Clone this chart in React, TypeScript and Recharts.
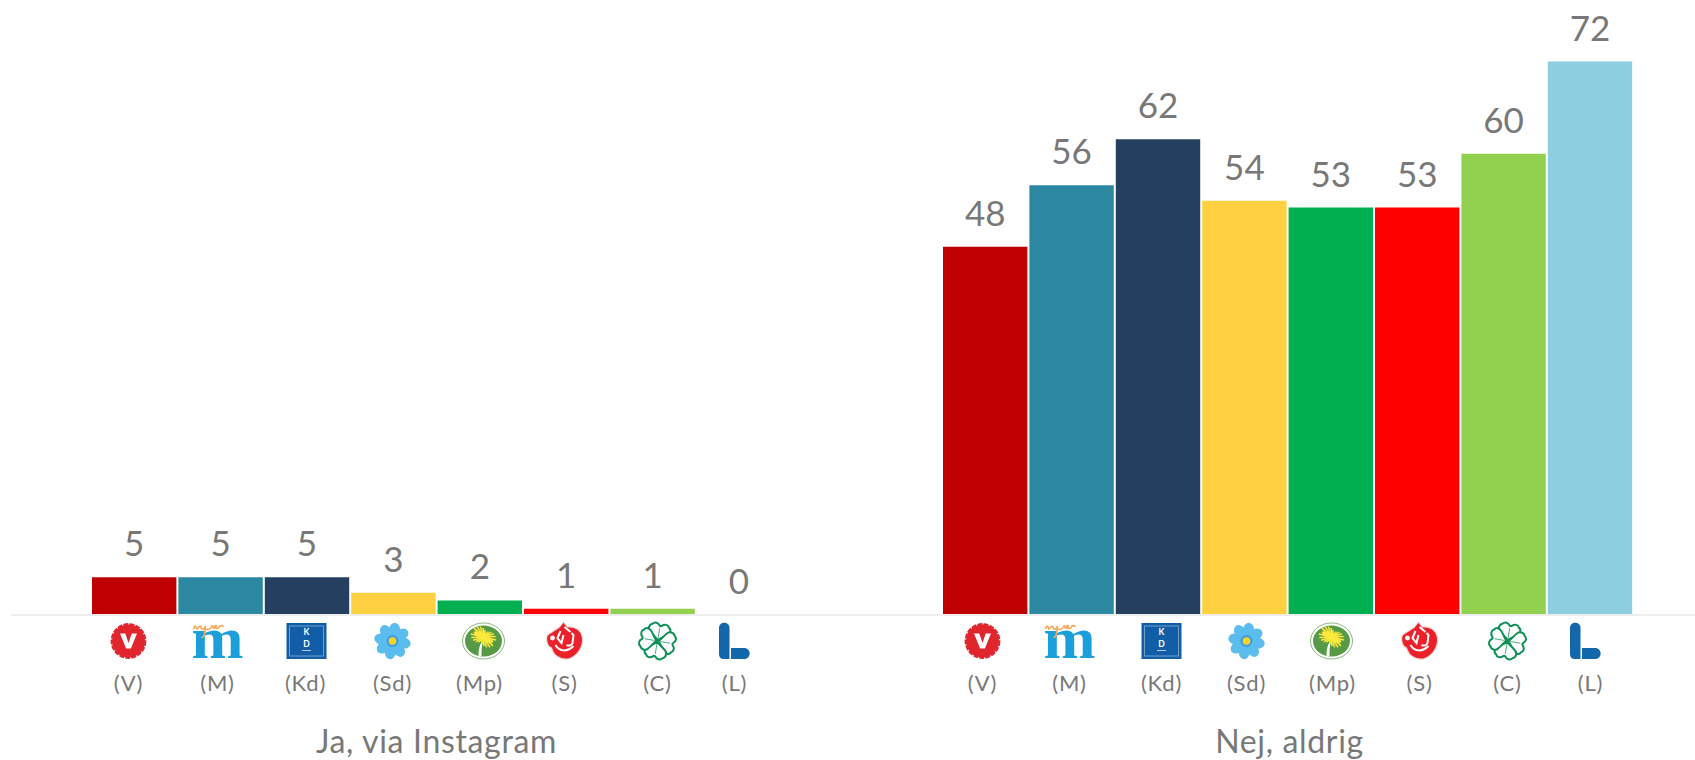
import { Bar, BarChart, LabelList, XAxis, YAxis } from "recharts"

const groups = ["Ja, via Instagram", "Nej, aldrig"]
const parties = ["V", "M", "Kd", "Sd", "Mp", "S", "C", "L"]
const colors = ["#c00000", "#2b88a0", "#253f61", "#ffd040", "#00b050", "#ff0000", "#92d050", "#8bcfe1"]

// values per party, same order as `parties`
// the last one is read as 0, a bar of exactly 0 loses its label so it is kept just above
const jaValues = [4.9, 4.9, 4.9, 2.9, 1.9, 0.8, 0.8, 0.01]
const nejValues = [47.9, 55.9, 61.9, 53.9, 53, 53, 60, 72]

// logos and party labels were placed by hand in the original, so they do not sit on the bars
const logoOffsets = [
  [-308, -219, -130, -44, 47, 128, 221, 298],
  [-305, -218, -126, -41, 44, 132, 220, 298],
]
const labelOffsets = [
  [-308, -219, -131, -44, 43, 128, 221, 298],
  [-305, -218, -126, -41, 45, 132, 220, 303],
]

const data = groups.map((group, g) => {
  const values = g === 0 ? jaValues : nejValues
  const row: Record<string, string | number> = { group }
  parties.forEach((p, i) => {
    row[p] = values[i]
  })
  return row
})

const textColor = "#787878"
const fontFamily = "Lato, sans-serif"

function LogoV() {
  return (
    <g>
      <circle r={16.5} fill="#e0252c" />
      <circle r={17} fill="none" stroke="#e0252c" strokeWidth={1.8} strokeDasharray="5 1.2" />
      <path d="M-8.5 -7.5 L-3.2 -7.5 L0 2 L3.2 -7.5 L8.5 -7.5 L2.4 7.5 L-2.4 7.5 Z" fill="#fff" />
    </g>
  )
}

function LogoM() {
  return (
    <g>
      <text
        x={0}
        y={17}
        textAnchor="middle"
        fontFamily="'Liberation Serif', serif"
        fontWeight={700}
        fontSize={60}
        fill="#1b9fdb"
        textLength={52}
        lengthAdjust="spacingAndGlyphs"
      >
        m
      </text>
      <path
        d="M-24 -12 C-23 -15 -22 -16 -21 -13 C-21 -10 -19 -15 -17 -15 C-16 -11 -14 -10 -12 -15 C-12 -9 -14 -2 -16 -4 M-11 -12 C-8 -10 -6 -14 -5 -16 C-5 -11 -2 -13 -1 -15 C-4 -17 -3 -11 1 -13 C3 -16 5 -16 6 -14"
        fill="none"
        stroke="#f5a95c"
        strokeWidth={1.6}
      />
    </g>
  )
}

function LogoKd() {
  return (
    <g>
      <rect x={-20} y={-18} width={40} height={36} fill="#125ea6" />
      <rect x={-17} y={-15} width={34} height={30} fill="none" stroke="#6f9fcc" strokeWidth={1} />
      <g fontFamily="Lato, sans-serif" fontWeight={700} fontSize={8.5} fill="#fff" textAnchor="middle">
        <text x={0} y={-6}>K</text>
        <text x={0} y={6}>D</text>
      </g>
      <line x1={-4.5} x2={4.5} y1={9.5} y2={9.5} stroke="#dde8f3" strokeWidth={0.8} />
    </g>
  )
}

function LogoSd() {
  const petals = [0, 45, 90, 135, 180, 225, 270, 315]
  return (
    <g>
      {petals.map((a) => (
        <ellipse key={a} cx={0} cy={-11} rx={5.6} ry={7.4} fill="#5bbcee" transform={`rotate(${a + 10})`} />
      ))}
      <circle r={6} fill="#3f9fdc" />
      <circle r={3.8} fill="#ffd21f" />
    </g>
  )
}

function LogoMp() {
  const rays = [-75, -60, -45, -30, -15, 0, 15, 30, 45, 60, 75, 105, 120, 135, 150, 165, 180, 195, 210, 225, 240, 255]
  return (
    <g>
      <ellipse rx={21} ry={18} fill="#fff" stroke="#86b97c" strokeWidth={1} />
      <ellipse rx={18.5} ry={15.5} fill="#569a46" />
      <path d="M-5 15 C-5 8 -4 3 0 -1 C-2 4 -2 9 -2 15 Z" fill="#fff" />
      <g stroke="#fbe83a" strokeWidth={1.6} transform="translate(0 -4) rotate(28)">
        {rays.map((a) => (
          <line key={a} x1={0} y1={0} x2={0} y2={-7} transform={`rotate(${a}) scale(${1} ${Math.abs(Math.sin((a * Math.PI) / 180)) * 1.2 + 0.7})`} />
        ))}
        <ellipse rx={11} ry={3} fill="#fbe83a" stroke="none" />
      </g>
    </g>
  )
}

function LogoS() {
  return (
    <g>
      <path
        d="M-5 -14 L-1 -19 L3 -14 C10 -15 17 -11 18 -3 C19 6 13 15 4 18 C-4 19 -11 15 -13 7 C-18 5 -19 -3 -17 -6 C-13 -9 -9 -11 -5 -14 Z"
        fill="#ec2028"
        stroke="#eadada"
        strokeWidth={1.2}
      />
      <g fill="none" stroke="#fff" strokeWidth={2}>
        <path d="M-9 4 C-5 11 3 11 9 5" />
        <path d="M-4 -10 L-7 -3 L-3 2 L-1 -6" />
        <path d="M7 -8 L9 -6 L8 2 C7 5 4 5 2 4" />
        <path d="M0 -14 L6 -9" />
      </g>
      <circle cx={-12} cy={-3} r={2.4} fill="#fff" />
    </g>
  )
}

function LogoC() {
  const leaves = [0, 90, 180, 270]
  return (
    <g>
      {leaves.map((a) => (
        <g key={a} transform={`rotate(${a + 10})`}>
          <path
            d="M0 -1 C-3 -4 -7 -6 -9 -8 C-12 -10 -11 -15 -8 -16 C-6 -19 -2 -18 -1 -16 C0 -15 1 -15 2 -16 C4 -18 8 -18 9 -15 C12 -14 11 -10 9 -8 C7 -6 3 -4 0 -1 Z"
            fill="#fff"
            stroke="#0f8f58"
            strokeWidth={2}
          />
          <line x1={0} y1={-3} x2={0} y2={-13} stroke="#0f8f58" strokeWidth={0.7} />
        </g>
      ))}
    </g>
  )
}

function LogoL() {
  return (
    <g fill="#1268ab">
      <path d="M-15.5 -13 C-15.5 -20 -5 -20 -5 -13 L-5 18 L-11 18 C-14 18 -15.5 16 -15.5 13 Z" />
      <path d="M-3.5 7 L9.5 7 C17 7 17 18 9.5 18 L-3.5 18 Z" />
    </g>
  )
}

const logos = [LogoV, LogoM, LogoKd, LogoSd, LogoMp, LogoS, LogoC, LogoL]

function GroupTick({ x, y, payload }: any) {
  const g = payload.index
  return (
    <g>
      {parties.map((p, i) => {
        const Logo = logos[i]
        return (
          <g key={p}>
            <g transform={`translate(${x + logoOffsets[g][i]} ${y + 24})`}>
              <Logo />
            </g>
            <text
              x={x + labelOffsets[g][i]}
              y={y + 74}
              textAnchor="middle"
              fontFamily={fontFamily}
              fontSize={22}
              letterSpacing={0.8}
              fill={textColor}
            >
              ({p})
            </text>
          </g>
        )
      })}
      <text
        x={x + (g === 0 ? 0 : 2)}
        y={y + 136}
        textAnchor="middle"
        fontFamily={fontFamily}
        fontSize={32}
        letterSpacing={0.66}
        fill={textColor}
      >
        {payload.value}
      </text>
    </g>
  )
}

export default function App() {
  return (
    <div style={{ position: "absolute", left: 0, top: 0, width: 1695, height: 760, overflow: "hidden", background: "#fff" }}>
      <BarChart
        width={1719}
        height={760}
        data={data}
        margin={{ top: 0, right: 6, bottom: 0, left: 11 }}
        barSize={84.4}
        barGap={2}
      >
        <XAxis
          dataKey="group"
          height={145}
          interval={0}
          tickLine={false}
          tickSize={0}
          axisLine={{ stroke: "#eeeeee", strokeWidth: 2 }}
          tick={<GroupTick />}
        />
        <YAxis hide domain={[0, 80]} />
        {parties.map((p, i) => (
          <Bar key={p} dataKey={p} fill={colors[i]} isAnimationActive={false}>
            <LabelList
              dataKey={p}
              position="top"
              offset={21}
              formatter={(v: any) => String(Math.round(v))}
              fontFamily={fontFamily}
              fontSize={35}
              fill={textColor}
            />
          </Bar>
        ))}
      </BarChart>
    </div>
  )
}
